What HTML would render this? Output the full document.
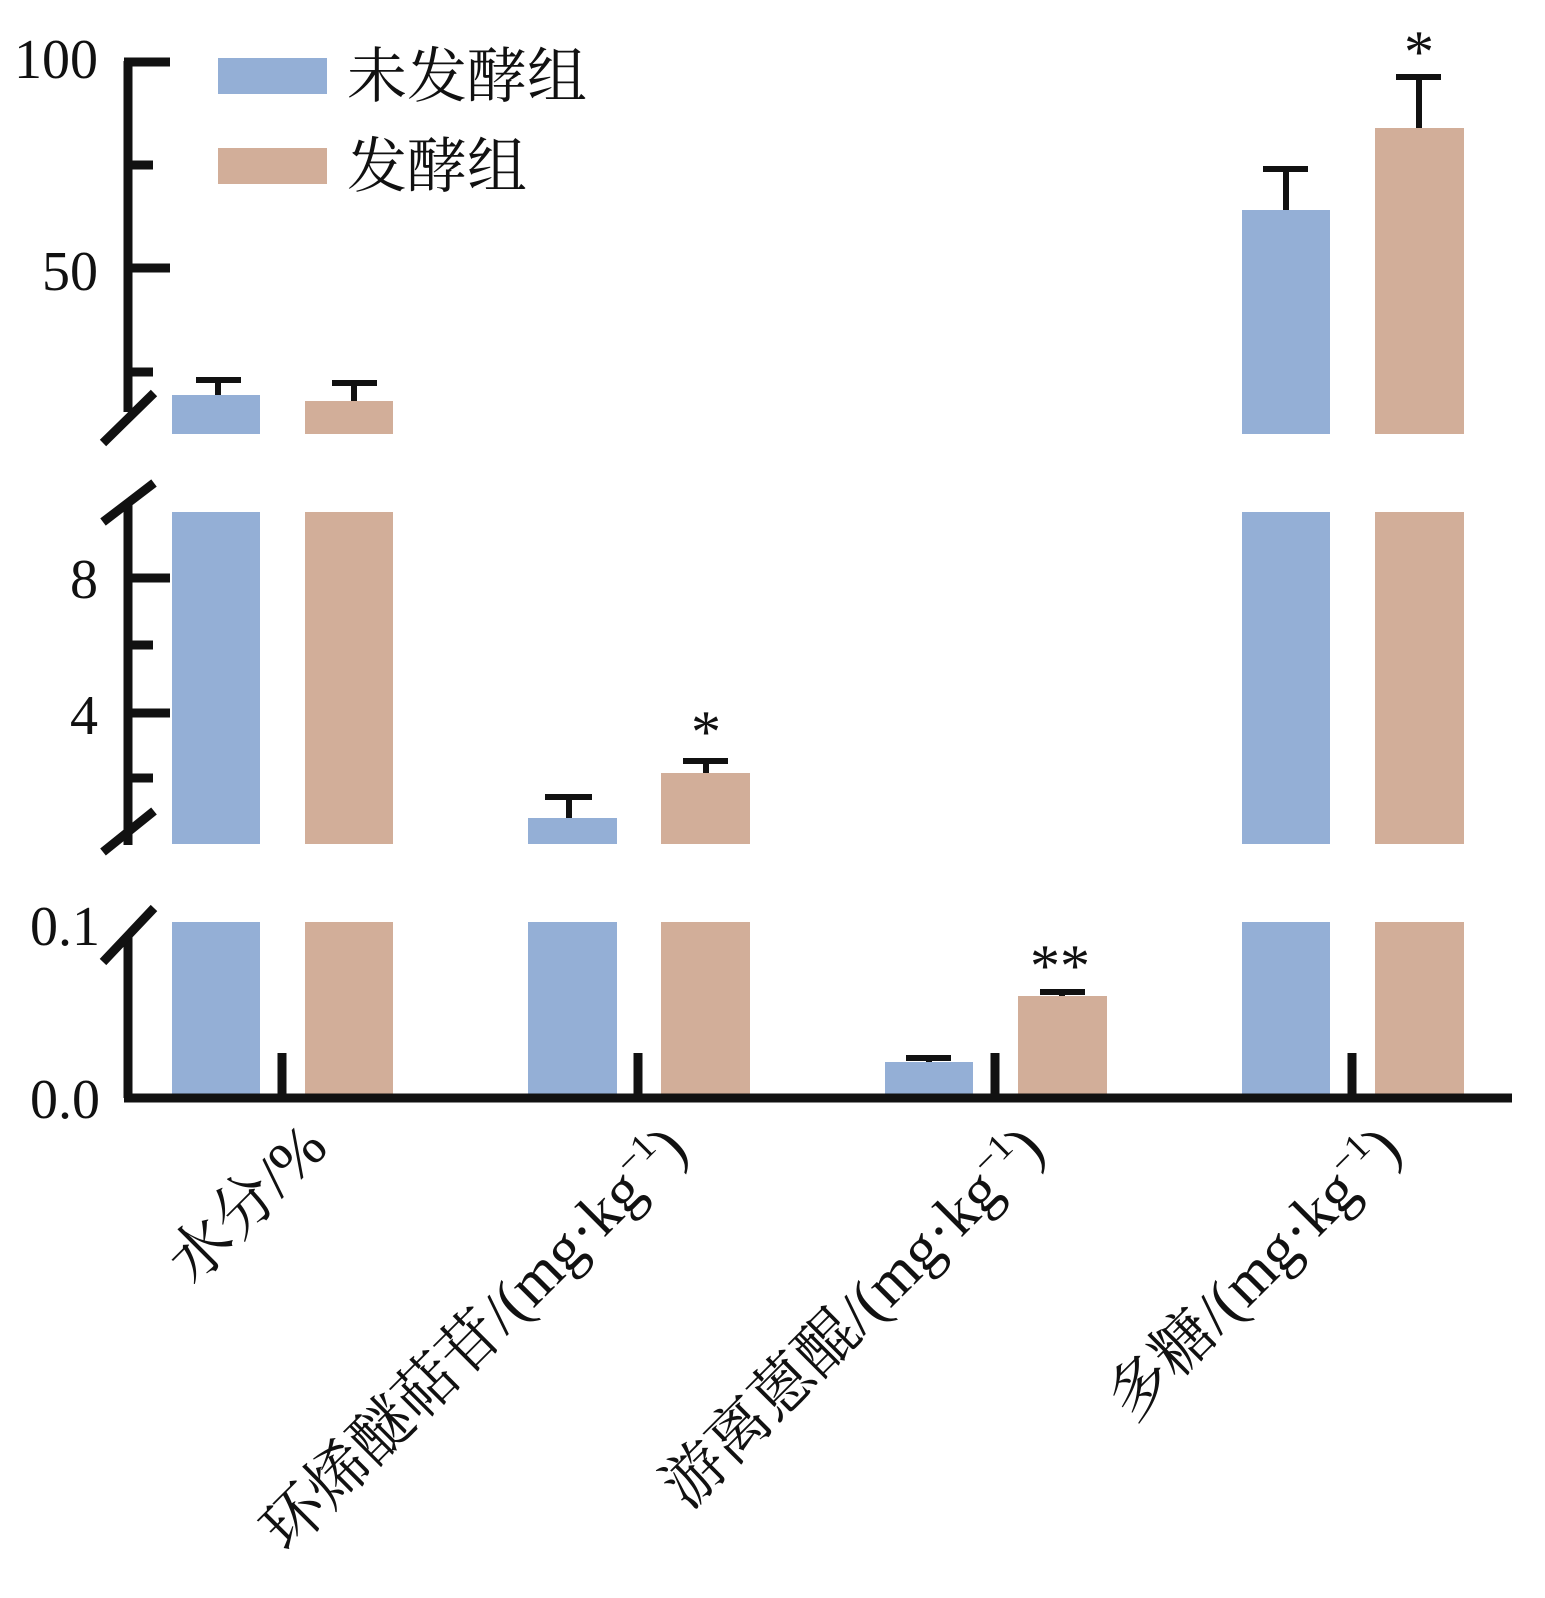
<!DOCTYPE html>
<html><head><meta charset="utf-8"><style>
html,body{margin:0;padding:0;background:#fff;}
svg{display:block;}
text{font-family:"Liberation Serif","Noto Serif CJK SC",serif;fill:#111;}
</style></head><body>
<svg width="1545" height="1598" viewBox="0 0 1545 1598" xmlns="http://www.w3.org/2000/svg">
<g fill="#94afd6">
<rect x="172" y="395" width="88" height="39"/>
<rect x="172" y="512" width="88" height="332"/>
<rect x="172" y="922" width="88" height="172"/>
<rect x="528" y="818" width="89" height="26"/>
<rect x="528" y="922" width="89" height="172"/>
<rect x="885" y="1062" width="88" height="32"/>
<rect x="1242" y="210" width="88" height="224"/>
<rect x="1242" y="512" width="88" height="332"/>
<rect x="1242" y="922" width="88" height="172"/>
<rect x="218" y="58" width="109" height="36"/>
</g>
<g fill="#d2ae99">
<rect x="305" y="401" width="88" height="33"/>
<rect x="305" y="512" width="88" height="332"/>
<rect x="305" y="922" width="88" height="172"/>
<rect x="661" y="773" width="89" height="71"/>
<rect x="661" y="922" width="89" height="172"/>
<rect x="1018" y="996" width="89" height="98"/>
<rect x="1375" y="128" width="89" height="306"/>
<rect x="1375" y="512" width="89" height="332"/>
<rect x="1375" y="922" width="89" height="172"/>
<rect x="218" y="148" width="109" height="36"/>
</g>
<g stroke="#111" stroke-width="6" fill="none">
<path d="M218 395V380M196 380H241"/>
<path d="M354 401V383M332 383H377"/>
<path d="M569 818V797M545 797H592"/>
<path d="M706 773V761M683 761H728"/>
<path d="M929 1062V1058M906 1058H951"/>
<path d="M1062 996V992M1040 992H1085"/>
<path d="M1286 210V169M1263 169H1308"/>
<path d="M1419 128V77M1396 77H1441"/>
</g>
<g stroke="#111" stroke-width="9" fill="none">
<path d="M128 61V412M124 62H170M128 165H153M128 268H170M128 372H153"/>
<path d="M128 505V845M128 578H170M128 645H153M128 713H170M128 778H153"/>
<path d="M128 935V1098M124 1098H1512"/>
<path d="M282 1098V1053M638 1098V1053M995 1098V1053M1352 1098V1053"/>
<path d="M103 443L154 393M103 522L154 483M103 852L154 811M103 962L154 908"/>
</g>
<g font-size="56">
<text x="98" y="78" text-anchor="end">100</text>
<text x="98" y="290" text-anchor="end">50</text>
<text x="98" y="598" text-anchor="end">8</text>
<text x="98" y="734" text-anchor="end">4</text>
<text x="100" y="945" text-anchor="end">0.1</text>
<text x="100" y="1118" text-anchor="end">0.0</text>
</g>
<g font-size="60">
<text x="347" y="97">未发酵组</text>
<text x="347" y="187">发酵组</text>
</g>
<g font-size="60" text-anchor="middle">
<text x="706" y="752">*</text>
<text x="1060" y="986">**</text>
<text x="1419" y="72">*</text>
</g>
<g font-size="62" text-anchor="end">
<text transform="translate(330,1150) rotate(-45)">水分/%</text>
<text transform="translate(690,1152) rotate(-45)">环烯醚萜苷/(mg·kg<tspan font-size="37" dy="-25">−1</tspan><tspan dy="25">)</tspan></text>
<text transform="translate(1047,1152) rotate(-45)">游离蒽醌/(mg·kg<tspan font-size="37" dy="-25">−1</tspan><tspan dy="25">)</tspan></text>
<text transform="translate(1404,1152) rotate(-45)">多糖/(mg·kg<tspan font-size="37" dy="-25">−1</tspan><tspan dy="25">)</tspan></text>
</g>
</svg>
</body></html>
